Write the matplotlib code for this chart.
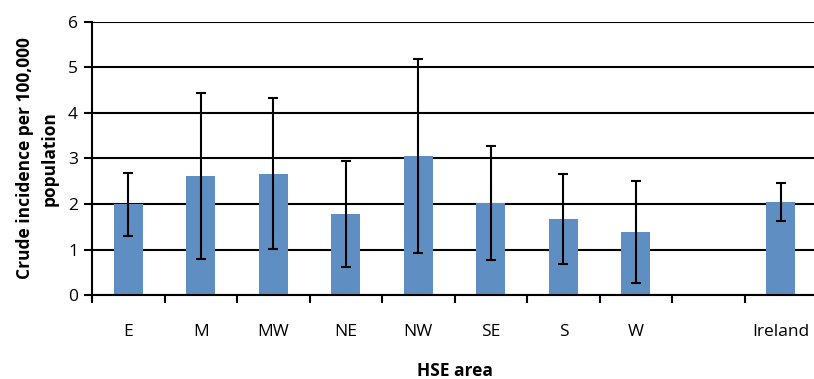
import matplotlib
matplotlib.use("Agg")
import matplotlib.pyplot as plt
import numpy as np

categories = ["E", "M", "MW", "NE", "NW", "SE", "S", "W", "", "Ireland"]
values = [2.00, 2.62, 2.67, 1.79, 3.05, 2.02, 1.66, 1.38, np.nan, 2.04]
err_low = [1.29, 0.80, 1.02, 0.62, 0.93, 0.76, 0.68, 0.27, np.nan, 1.63]
err_high = [2.68, 4.45, 4.34, 2.95, 5.19, 3.27, 2.66, 2.51, np.nan, 2.46]
yticks = [0, 1, 2, 3, 4, 5, 6]

plt.rcParams['font.family'] = ['Open Sans', 'DejaVu Sans']

fig = plt.figure(figsize=(8.14, 3.79), dpi=100)
ax = fig.add_axes([0.113, 0.2216, 0.891, 0.7204])

x = np.arange(len(categories))
vals = np.array(values, dtype=float)
lo = vals - np.array(err_low)
hi = np.array(err_high) - vals

ax.set_axisbelow(True)
ax.yaxis.grid(True, color='black', linewidth=1.5)
ax.bar(x, vals, width=0.4, color='#5f8fc2', zorder=2)
ax.errorbar(x, vals, yerr=[lo, hi], fmt='none', ecolor='black',
            elinewidth=1.5, capsize=3.8, capthick=1.5, zorder=3)

ax.set_xlim(-0.5, len(categories) - 0.5)
ax.set_ylim(0, 6)
ax.set_yticks(yticks)
ax.set_xticks(x)
ax.set_xticklabels(categories)
ax.set_xticks(np.arange(-0.5, len(categories) - 0.5, 1), minor=True)
ax.tick_params(axis='x', which='major', length=0, pad=21, labelsize=12.5)
ax.tick_params(axis='x', which='minor', length=6, width=1.5, direction='out')
ax.tick_params(axis='y', length=6, width=1.5, direction='out', labelsize=12.5, pad=4)

for s in ['top', 'right']:
    ax.spines[s].set_visible(False)
for s in ['left', 'bottom']:
    ax.spines[s].set_linewidth(1.5)
    ax.spines[s].set_color('black')

ax.set_ylabel("Crude incidence per 100,000\npopulation", fontweight='bold',
              fontsize=12.5, labelpad=7, linespacing=1.45)
ax.set_xlabel("HSE area", fontweight='bold', fontsize=12.5, labelpad=16)

fig.savefig("out.png", dpi=100)
